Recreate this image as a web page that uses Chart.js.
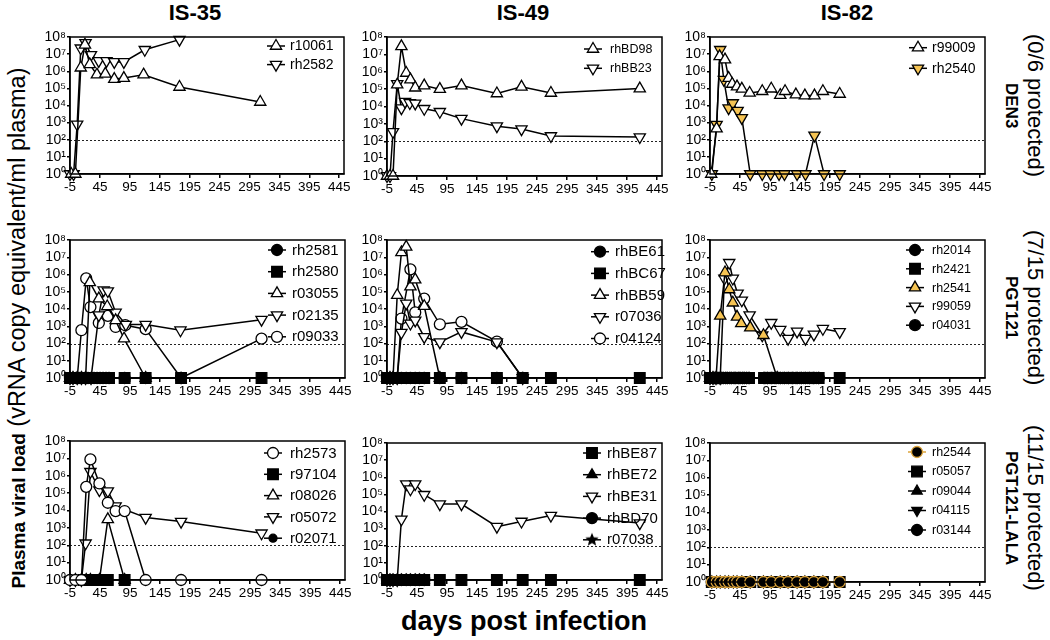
<!DOCTYPE html>
<html>
<head>
<meta charset="utf-8">
<script src="https://cdn.jsdelivr.net/npm/chart.js@4.4.1/dist/chart.umd.min.js"></script>
<style>
  body { margin: 0; background: #fff; width: 1050px; height: 640px; overflow: hidden; position: relative;
         font-family: 'Liberation Sans', Arial, sans-serif; color: #000; }
  .abs { position: absolute; }
  .title { font-weight: bold; font-size: 22px; top: 0px; width: 120px; text-align: center; }
  .side { left: 996px; width: 54px; display: flex; align-items: center; justify-content: center; }
  .side div { writing-mode: vertical-lr; text-align: center; font-size: 22px; line-height: 24px; white-space: nowrap; }
  .side b { font-size: 17px; }
</style>
</head>
<body>
<div class="abs title" style="left:135px">IS-35</div>
<div class="abs title" style="left:463px">IS-49</div>
<div class="abs title" style="left:787px">IS-82</div>

<div class="abs side" style="top:28px;height:156px"><div><b>DEN3</b><br>(0/6 protected)</div></div>
<div class="abs side" style="top:228px;height:160px"><div><b>PGT121</b><br>(7/15 protected)</div></div>
<div class="abs side" style="top:420px;height:176px"><div><b>PGT121-LALA</b><br>(11/15 protected)</div></div>

<div class="abs" style="left:17px;top:328px;transform:translate(-50%,-50%) rotate(-90deg);white-space:nowrap;font-size:23.5px">
  <b style="font-size:19px">Plasma viral load</b> (vRNA copy equivalent/ml plasma)</div>
<div class="abs" style="left:524px;top:621px;transform:translate(-50%,-50%);white-space:nowrap;font-size:27px;font-weight:bold">days post infection</div>

<script>
// ---- axis ticks ----
const xTicks = [-5, 45, 95, 145, 195, 245, 295, 345, 395, 445];
const yTicks = [1, 1e1, 1e2, 1e3, 1e4, 1e5, 1e6, 1e7, 1e8];
const detectionLimit = 100;

// ---- DEN3 / IS-35 ----
const r10061Days = [-3, 4, 13, 20, 28, 40, 54, 69, 85, 118, 178, 313];
const r10061Load = [1, 1, 1.6e6, 3.5e7, 2.5e6, 6.3e5, 7e5, 3.5e5, 4e5, 6.3e5, 1.2e5, 1.6e4];
const rh2582Days = [-5, 1, 7, 13, 21, 30, 43, 56, 69, 85, 120, 178];
const rh2582Load = [1, 1, 800, 2.2e7, 4.5e7, 9e6, 4e6, 4e6, 3.5e6, 3.5e6, 1.8e7, 7e7];

// ---- DEN3 / IS-49 ----
const rhBD98Days = [-5, 0, 5, 12, 19, 27, 34, 42, 57, 83, 119, 178, 219, 268, 416];
const rhBD98Load = [1, 1, 1, 1.8e5, 2.9e7, 8.5e5, 3.5e5, 1.2e5, 1.6e5, 1e5, 1.6e5, 5.6e4, 1.35e5, 6e4, 1.07e5];
const rhBB23Days = [-5, 0, 5, 12, 19, 25, 33, 42, 57, 83, 119, 178, 219, 268, 416];
const rhBB23Load = [1, 1, 350, 2e5, 8e3, 1.9e4, 1.6e4, 1.5e4, 7.4e3, 5e3, 2e3, 740, 500, 200, 175];

// ---- DEN3 / IS-82 ----
const r99009Days = [-3, 6, 11, 20, 26, 32, 40, 48, 61, 82, 97, 112, 120, 138, 153, 169, 183, 211];
const r99009Load = [1, 450, 7.4e6, 4.8e6, 4e5, 1.8e5, 1.26e5, 9.3e4, 5.4e4, 6.8e4, 9.5e4, 4e4, 6.8e4, 4.3e4, 3.8e4, 3.8e4, 6.8e4, 4.7e4];
const rh2540Days = [-2, 6, 12, 18, 26, 33, 41, 48, 62, 82, 96, 110, 119, 140, 154, 169, 185, 211];
const rh2540Load = [1, 760, 1.8e7, 3.2e5, 7e3, 1.4e4, 5e3, 1.9e3, 1, 1, 1, 1, 1, 1, 1, 180, 1, 1];

// ---- PGT121 / IS-35 ----
const rh2581Days = [-5, 0, 5, 10, 15, 20, 25, 30, 35, 40, 45, 50, 55, 60, 86, 121, 180];
const rh2581Load = [1, 1, 1, 1, 1, 1, 1, 1, 1, 1, 1, 1, 1, 1, 1, 1, 1];
const rh2580Days = [-5, 0, 5, 10, 15, 20, 25, 30, 35, 40, 45, 50, 55, 60, 86, 121, 180, 314];
const rh2580Load = [1, 1, 1, 1, 1, 1, 1, 1, 1, 1, 1, 1, 1, 1, 1, 1, 1, 1];
const r03055Days = [-5, 0, 7, 14, 21, 28, 43, 57, 71, 85, 121];
const r03055Load = [1, 1, 1, 1, 1, 3.5e5, 4e4, 1.4e4, 2.2e3, 190, 1];
const r02135Days = [-5, 0, 7, 14, 21, 30, 43, 51, 58, 71, 88, 121, 179, 314];
const r02135Load = [1, 1, 1, 1, 1, 1, 4.4e3, 1.25e5, 1.1e5, 6.3e3, 1.25e3, 1.25e3, 590, 2.4e3];
const r09033Days = [-5, 0, 7, 14, 22, 29, 43, 58, 71, 87, 121, 180, 314];
const r09033Load = [1, 1, 1, 590, 5.9e5, 1.3e4, 1.55e3, 4e3, 910, 1.15e3, 680, 1, 190];

// ---- PGT121 / IS-49 ----
const rhBE61Days = [-5, 0, 5, 12, 19, 27, 34, 42, 49, 57, 83, 119, 178, 221];
const rhBE61Load = [1, 1, 1, 1, 1, 1, 1, 1, 1, 1, 1, 1, 1, 1];
const rhBC67Days = [-5, 0, 5, 12, 19, 27, 34, 42, 49, 57, 83, 119, 178, 221, 268, 416];
const rhBC67Load = [1, 1, 1, 1, 1, 1, 1, 1, 1, 1, 1, 1, 1, 1, 1, 1];
const rhBB59Days = [-5, 0, 5, 12, 19, 27, 34, 42, 57, 83];
const rhBB59Load = [1, 1, 1, 6.3e4, 1.9e7, 4e7, 2e5, 5e5, 1.45e4, 1];
const r07036Days = [-5, 0, 5, 12, 19, 27, 34, 42, 57, 83, 119, 178, 221];
const r07036Load = [1, 1, 1, 1, 430, 2.1e4, 1.45e3, 2.2e3, 240, 120, 470, 120, 1];
const r04124Days = [-5, 0, 5, 12, 19, 34, 42, 57, 83, 119, 178, 221];
const r04124Load = [1, 1, 1, 1, 2.8e3, 2e6, 6.3e3, 4e4, 1.3e3, 1.8e3, 130, 1];

// ---- PGT121 / IS-82 ----
const rh2014Days = [-5, 0, 3, 7, 10, 14, 17, 21, 24, 28, 31, 35, 38, 42, 45, 49, 52, 56, 60, 85, 88, 91, 95, 98, 102, 105, 109, 112, 116, 119, 123, 126, 130, 133, 137, 140, 144, 147, 151, 154, 158, 161, 165, 168, 172, 176];
const rh2014Load = [1, 1, 1, 1, 1, 1, 1, 1, 1, 1, 1, 1, 1, 1, 1, 1, 1, 1, 1, 1, 1, 1, 1, 1, 1, 1, 1, 1, 1, 1, 1, 1, 1, 1, 1, 1, 1, 1, 1, 1, 1, 1, 1, 1, 1, 1];
const rh2421Days = [-5, 0, 3, 7, 10, 14, 17, 21, 24, 28, 31, 35, 38, 42, 45, 49, 52, 56, 60, 85, 88, 91, 95, 98, 102, 105, 109, 112, 116, 119, 123, 126, 130, 133, 137, 140, 144, 147, 151, 154, 158, 161, 165, 168, 172, 176, 211];
const rh2421Load = [1, 1, 1, 1, 1, 1, 1, 1, 1, 1, 1, 1, 1, 1, 1, 1, 1, 1, 1, 1, 1, 1, 1, 1, 1, 1, 1, 1, 1, 1, 1, 1, 1, 1, 1, 1, 1, 1, 1, 1, 1, 1, 1, 1, 1, 1, 1];
const rh2541Days = [-5, 0, 5, 12, 20, 27, 33, 40, 47, 62, 84, 107];
const rh2541Load = [1, 1, 1, 4e3, 1.3e6, 1.35e5, 2.3e4, 3.5e3, 1.45e3, 830, 300, 1];
const r99059Days = [-5, 0, 5, 12, 19, 27, 33, 41, 48, 61, 82, 97, 112, 125, 140, 154, 168, 183, 211];
const r99059Load = [1, 1, 1, 1, 5.9e5, 4.8e6, 5.9e5, 8e4, 3.2e4, 4.4e3, 300, 1.6e3, 630, 190, 500, 190, 340, 720, 470];
const r04031Days = [-5, 0, 3, 7, 10, 14, 17, 21, 24, 28, 31, 35, 38, 42, 45, 49, 52, 56, 60, 85, 91, 98, 105, 112, 119, 126, 133, 140, 147, 154, 161, 168, 176];
const r04031Load = [1, 1, 1, 1, 1, 1, 1, 1, 1, 1, 1, 1, 1, 1, 1, 1, 1, 1, 1, 1, 1, 1, 1, 1, 1, 1, 1, 1, 1, 1, 1, 1, 1];

// ---- PGT121-LALA / IS-35 ----
const rh2573Days = [-5, 4, 14, 22, 29, 44, 58, 71, 86, 121, 180, 314];
const rh2573Load = [1, 1, 1, 2.3e5, 8.7e6, 3.6e5, 2.8e4, 9.3e3, 9.3e3, 1, 1, 1];
const r97104Days = [18, 22, 26, 29, 33, 36, 40, 44, 47, 51, 54, 58, 86];
const r97104Load = [1, 1, 1, 1, 1, 1, 1, 1, 1, 1, 1, 1, 1];
const r08026Days = [-5, 4, 14, 22, 29, 44, 58, 86];
const r08026Load = [1, 1, 1, 1, 1, 1, 3.1e3, 1];
const r05072Days = [-5, 4, 14, 21, 29, 44, 58, 71, 121, 180, 314];
const r05072Load = [1, 1, 1, 130, 1.7e6, 1.5e5, 1.3e5, 1.8e4, 3.9e3, 2.3e3, 490];
const r02071Days = [18, 22, 26, 29, 33, 36, 40, 44, 47, 51, 54, 58];
const r02071Load = [1, 1, 1, 1, 1, 1, 1, 1, 1, 1, 1, 1];

// ---- PGT121-LALA / IS-49 ----
const rhBE87Days = [-5, 0, 5, 12, 19, 27, 34, 42, 49, 57, 83, 119, 178, 221, 268, 416];
const rhBE87Load = [1, 1, 1, 1, 1, 1, 1, 1, 1, 1, 1, 1, 1, 1, 1, 1];
const rhBE72Days = [-5, 0, 5, 12, 19, 27, 34, 42, 49, 57];
const rhBE72Load = [1, 1, 1, 1, 1, 1, 1, 1, 1, 1];
const rhBE31Days = [-5, 0, 5, 12, 19, 27, 34, 42, 57, 83, 119, 178, 219, 268, 416];
const rhBE31Load = [1, 1, 1, 1, 3.5e3, 4e5, 2e5, 4e5, 9.5e4, 2.7e4, 2.7e4, 1.3e3, 2.6e3, 5.8e3, 2.1e3];
const rhBD70Days = [-5, 0, 5, 12, 19, 27, 34, 42, 49, 57];
const rhBD70Load = [1, 1, 1, 1, 1, 1, 1, 1, 1, 1];
const r07038Days = [-5, 0, 5, 12, 19, 27, 34, 42, 49, 57];
const r07038Load = [1, 1, 1, 1, 1, 1, 1, 1, 1, 1];

// ---- PGT121-LALA / IS-82 ----
const rh2544Days = [-2, 6, 12, 20, 26, 34, 40, 48, 62, 84, 97, 112, 125, 140, 153, 168, 183, 211];
const rh2544Load = [1, 1, 1, 1, 1, 1, 1, 1, 1, 1, 1, 1, 1, 1, 1, 1, 1, 1];
const r05057Days = [-2, 6, 12, 20, 26, 34, 40, 48, 62, 84, 97, 112, 125, 140, 153, 168, 183, 211];
const r05057Load = [1, 1, 1, 1, 1, 1, 1, 1, 1, 1, 1, 1, 1, 1, 1, 1, 1, 1];
const r09044Days = [-2, 6, 12, 20, 26, 34, 40, 48, 62, 84, 97, 112, 125, 140, 153, 168, 183];
const r09044Load = [1, 1, 1, 1, 1, 1, 1, 1, 1, 1, 1, 1, 1, 1, 1, 1, 1];
const r04115Days = [-2, 6, 12, 20, 26, 34, 40, 48, 62, 84, 97, 112, 125, 140, 153, 168, 183];
const r04115Load = [1, 1, 1, 1, 1, 1, 1, 1, 1, 1, 1, 1, 1, 1, 1, 1, 1];
const r03144Days = [-2, 6, 12, 20, 26, 34, 40, 48, 62, 84, 97, 112, 125, 140, 153, 168, 183];
const r03144Load = [1, 1, 1, 1, 1, 1, 1, 1, 1, 1, 1, 1, 1, 1, 1, 1, 1];

// ---- marker styles ----
const YEL = '#f6c453';
const GOLD = '#dca43c';
const STY = {
  upOpen:       { shape: 'triangle', rot: 0,   fill: '#fff', r: 6.5 },
  downOpen:     { shape: 'triangle', rot: 180, fill: '#fff', r: 6.5 },
  upYellow:     { shape: 'triangle', rot: 0,   fill: YEL,    r: 6.5 },
  downYellow:   { shape: 'triangle', rot: 180, fill: YEL,    r: 6.5 },
  circleOpen:   { shape: 'circle', fill: '#fff', r: 5.5 },
  circleFilled: { shape: 'circle', fill: '#000', r: 5.5 },
  circleSmall:  { shape: 'circle', fill: '#000', r: 4 },
  circleGold:   { shape: 'circle', fill: '#000', border: GOLD, line: GOLD, r: 5.5 },
  squareFilled: { shape: 'rect', fill: '#000', r: 7.5 },
  upFilled:     { shape: 'triangle', rot: 0,   fill: '#000', r: 6 },
  downFilled:   { shape: 'triangle', rot: 180, fill: '#000', r: 6 },
  star:         { shape: 'star', r: 6 }
};

function makeStar(r) {
  const c = document.createElement('canvas');
  c.width = c.height = 2 * r + 2;
  const g = c.getContext('2d');
  g.beginPath();
  for (let i = 0; i < 10; i++) {
    const a = -Math.PI / 2 + i * Math.PI / 5;
    const rr = i % 2 ? r * 0.45 : r;
    g.lineTo(r + 1 + rr * Math.cos(a), r + 1 + rr * Math.sin(a));
  }
  g.closePath();
  g.fillStyle = '#000';
  g.fill();
  return c;
}
const starImg = makeStar(7);

// panel areas [left, top, right, bottom] and legend placement
const panels = [
  { area: [70, 37, 344, 174], leg: { mx: 68, tx: 54, top: 9, gap: 18.6, font: 14 },
    series: [
      { name: 'r10061', x: r10061Days, y: r10061Load, style: 'upOpen' },
      { name: 'rh2582', x: rh2582Days, y: rh2582Load, style: 'downOpen' } ] },
  { area: [387, 37, 662, 176], leg: { mx: 69, tx: 52, top: 12, gap: 19.3, font: 12.5 },
    series: [
      { name: 'rhBD98', x: rhBD98Days, y: rhBD98Load, style: 'upOpen' },
      { name: 'rhBB23', x: rhBB23Days, y: rhBB23Load, style: 'downOpen' } ] },
  { area: [710, 37, 985, 174], leg: { mx: 67, tx: 53, top: 10.7, gap: 20.6, font: 14 },
    series: [
      { name: 'r99009', x: r99009Days, y: r99009Load, style: 'upOpen' },
      { name: 'rh2540', x: rh2540Days, y: rh2540Load, style: 'downYellow' } ] },
  { area: [70, 240, 345, 378], leg: { mx: 68, tx: 53, top: 10, gap: 21.7, font: 15 },
    series: [
      { name: 'rh2581', x: rh2581Days, y: rh2581Load, style: 'circleFilled' },
      { name: 'rh2580', x: rh2580Days, y: rh2580Load, style: 'squareFilled' },
      { name: 'r03055', x: r03055Days, y: r03055Load, style: 'upOpen' },
      { name: 'r02135', x: r02135Days, y: r02135Load, style: 'downOpen' },
      { name: 'r09033', x: r09033Days, y: r09033Load, style: 'circleOpen' } ] },
  { area: [387, 240, 662, 378], leg: { mx: 62, tx: 47, top: 11.7, gap: 21.7, font: 15 },
    series: [
      { name: 'rhBE61', x: rhBE61Days, y: rhBE61Load, style: 'circleFilled' },
      { name: 'rhBC67', x: rhBC67Days, y: rhBC67Load, style: 'squareFilled' },
      { name: 'rhBB59', x: rhBB59Days, y: rhBB59Load, style: 'upOpen' },
      { name: 'r07036', x: r07036Days, y: r07036Load, style: 'downOpen' },
      { name: 'r04124', x: r04124Days, y: r04124Load, style: 'circleOpen' } ] },
  { area: [710, 240, 985, 378], leg: { mx: 70, tx: 53, top: 10, gap: 18.8, font: 12.5 },
    series: [
      { name: 'rh2014', x: rh2014Days, y: rh2014Load, style: 'circleFilled' },
      { name: 'rh2421', x: rh2421Days, y: rh2421Load, style: 'squareFilled' },
      { name: 'rh2541', x: rh2541Days, y: rh2541Load, style: 'upYellow' },
      { name: 'r99059', x: r99059Days, y: r99059Load, style: 'downOpen' },
      { name: 'r04031', x: r04031Days, y: r04031Load, style: 'circleFilled' } ] },
  { area: [70, 441, 345, 580], leg: { mx: 72, tx: 55, top: 12, gap: 21.3, font: 15 },
    series: [
      { name: 'rh2573', x: rh2573Days, y: rh2573Load, style: 'circleOpen' },
      { name: 'r97104', x: r97104Days, y: r97104Load, style: 'squareFilled' },
      { name: 'r08026', x: r08026Days, y: r08026Load, style: 'upOpen' },
      { name: 'r05072', x: r05072Days, y: r05072Load, style: 'downOpen' },
      { name: 'r02071', x: r02071Days, y: r02071Load, style: 'circleSmall' } ] },
  { area: [387, 443, 662, 580], leg: { mx: 70, tx: 55, top: 10, gap: 21.7, font: 15 },
    series: [
      { name: 'rhBE87', x: rhBE87Days, y: rhBE87Load, style: 'squareFilled' },
      { name: 'rhBE72', x: rhBE72Days, y: rhBE72Load, style: 'upFilled' },
      { name: 'rhBE31', x: rhBE31Days, y: rhBE31Load, style: 'downOpen' },
      { name: 'rhBD70', x: rhBD70Days, y: rhBD70Load, style: 'circleFilled' },
      { name: 'r07038', x: r07038Days, y: r07038Load, style: 'star' } ] },
  { area: [710, 443, 985, 582], leg: { mx: 68, tx: 53, top: 9, gap: 19.5, font: 12.5 },
    series: [
      { name: 'rh2544', x: rh2544Days, y: rh2544Load, style: 'circleGold' },
      { name: 'r05057', x: r05057Days, y: r05057Load, style: 'squareFilled' },
      { name: 'r09044', x: r09044Days, y: r09044Load, style: 'upFilled' },
      { name: 'r04115', x: r04115Days, y: r04115Load, style: 'downFilled' },
      { name: 'r03144', x: r03144Days, y: r03144Load, style: 'circleFilled' } ] }
];

const FONT = "'Liberation Sans', Arial, sans-serif";
const SUP = ['⁰', '¹', '²', '³', '⁴', '⁵', '⁶', '⁷', '⁸'];

function drawMarker(ctx, st, x, y) {
  if (st.shape === 'star') {
    ctx.drawImage(starImg, x - starImg.width / 2, y - starImg.height / 2);
    return;
  }
  ctx.save();
  ctx.fillStyle = st.fill;
  ctx.strokeStyle = st.border || '#000';
  ctx.lineWidth = 1.3;
  ctx.beginPath();
  if (st.shape === 'circle') {
    ctx.arc(x, y, st.r, 0, 2 * Math.PI);
  } else if (st.shape === 'rect') {
    const s = st.r * Math.SQRT1_2;
    ctx.rect(x - s, y - s, 2 * s, 2 * s);
  } else {
    let a = (st.rot || 0) * Math.PI / 180;
    for (let i = 0; i < 3; i++) {
      ctx.lineTo(x + Math.sin(a) * st.r, y - Math.cos(a) * st.r);
      a += 2 * Math.PI / 3;
    }
    ctx.closePath();
  }
  ctx.fill();
  ctx.stroke();
  ctx.restore();
}

function framePlugin(p) {
  return {
    id: 'frame',
    beforeDatasetsDraw(chart) {
      const { ctx, chartArea: a, scales } = chart;
      const y = Math.round(scales.y.getPixelForValue(detectionLimit)) + 0.5;
      ctx.save();
      ctx.strokeStyle = '#222';
      ctx.lineWidth = 1;
      ctx.setLineDash([2, 2]);
      ctx.beginPath();
      ctx.moveTo(a.left, y);
      ctx.lineTo(a.right, y);
      ctx.stroke();
      ctx.restore();
    },
    afterDraw(chart) {
      const { ctx, chartArea: a } = chart;
      ctx.save();
      ctx.strokeStyle = '#000';
      ctx.lineWidth = 1.5;
      ctx.strokeRect(a.left, a.top, a.right - a.left, a.bottom - a.top);
      // legend
      const lg = p.leg;
      ctx.font = lg.font + 'px ' + FONT;
      ctx.textBaseline = 'middle';
      ctx.fillStyle = '#000';
      p.series.forEach((s, i) => {
        const st = STY[s.style];
        const mx = a.right - lg.mx;
        const my = a.top + lg.top + i * lg.gap;
        ctx.strokeStyle = st.line || '#000';
        ctx.lineWidth = 1.5;
        ctx.beginPath();
        ctx.moveTo(mx - 9, my);
        ctx.lineTo(mx + 9, my);
        ctx.stroke();
        drawMarker(ctx, st, mx, my);
        ctx.fillStyle = '#000';
        ctx.fillText(s.name, a.right - lg.tx, my + 0.5);
      });
      ctx.restore();
    }
  };
}

function buildPanel(p) {
  const [L, T, R, B] = p.area;
  const cv = document.createElement('canvas');
  cv.width = R - L + 66;
  cv.height = B - T + 38;
  cv.style.cssText = `position:absolute;left:${L - 50}px;top:${T - 12}px`;
  document.body.appendChild(cv);

  const datasets = p.series.map(s => {
    const st = STY[s.style];
    return {
      label: s.name,
      data: s.x.map((d, i) => ({ x: d, y: s.y[i] })),
      borderColor: st.line || '#000',
      borderWidth: 1.5,
      tension: 0,
      fill: false,
      clip: false,
      pointStyle: st.shape === 'star' ? starImg : st.shape,
      pointRotation: st.rot || 0,
      pointRadius: st.r,
      pointBackgroundColor: st.fill || '#000',
      pointBorderColor: st.border || '#000',
      pointBorderWidth: 1.3
    };
  });

  new Chart(cv, {
    type: 'line',
    data: { datasets },
    options: {
      responsive: false,
      animation: false,
      events: [],
      layout: { padding: { top: 12, right: 16, left: 0, bottom: 0 } },
      plugins: { legend: { display: false }, tooltip: { enabled: false } },
      scales: {
        x: {
          type: 'linear', min: -5, max: 453,
          afterFit: s => { s.height = 26; },
          afterBuildTicks: s => { s.ticks = xTicks.map(v => ({ value: v })); },
          ticks: { autoSkip: false, maxRotation: 0, padding: 1, color: '#000',
                   font: { family: FONT, size: 13.5 }, callback: v => String(v) },
          grid: { drawOnChartArea: false, color: '#000', tickLength: 4, lineWidth: 1.5 },
          border: { color: '#000', width: 1.5 }
        },
        y: {
          type: 'logarithmic', min: 1, max: 1e8,
          afterFit: s => { s.width = 50; },
          afterBuildTicks: s => { s.ticks = yTicks.map(v => ({ value: v })); },
          ticks: { autoSkip: false, padding: 1, color: '#000', font: { family: FONT, size: 14 },
                   callback: v => '10' + SUP[Math.round(Math.log10(v))] },
          grid: { drawOnChartArea: false, color: '#000', tickLength: 3, lineWidth: 1.5 },
          border: { color: '#000', width: 1.5 }
        }
      }
    },
    plugins: [framePlugin(p)]
  });
}

panels.forEach(buildPanel);
</script>
</body>
</html>
